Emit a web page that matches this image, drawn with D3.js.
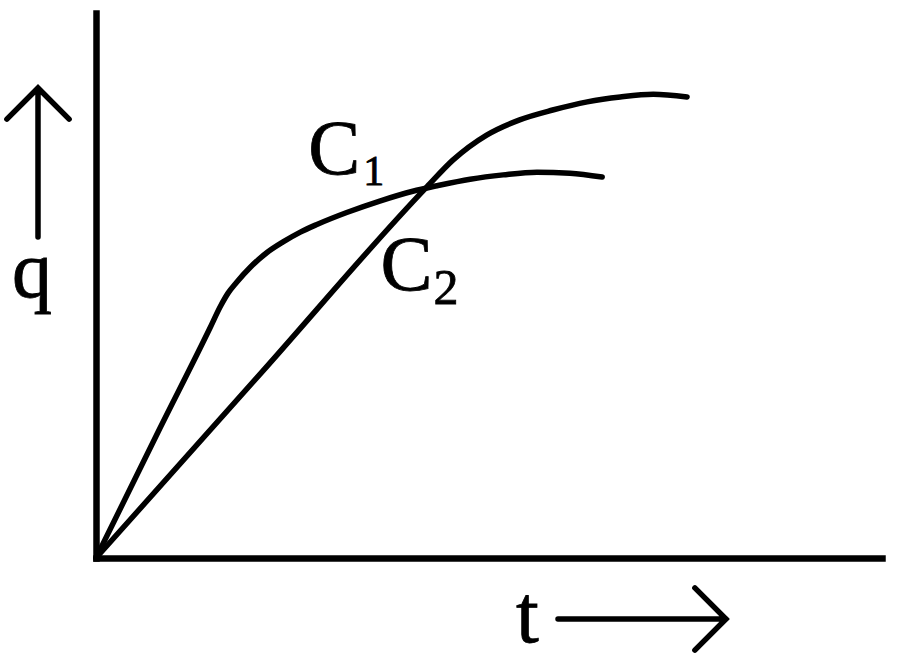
<!DOCTYPE html>
<html>
<head>
<meta charset="utf-8">
<script src="https://cdn.jsdelivr.net/npm/d3@7"></script>
<style>
  body { margin: 0; background: #fff; }
  svg { display: block; }
</style>
</head>
<body>
<svg id="chart" width="900" height="663"></svg>
<script>
// time (arbitrary units) and charge q for the two capacitors
var c1_t = [0, 0.81, 1.45, 1.58, 1.68, 1.79, 1.96, 2.18, 2.38, 2.60, 2.81, 3.19, 3.61, 4.03, 4.34, 4.76, 5.18, 5.61, 6.03, 6.44];
var c1_q = [0, 2.37, 4.22, 4.61, 4.86, 5.06, 5.33, 5.61, 5.80, 5.98, 6.12, 6.34, 6.55, 6.73, 6.83, 6.95, 7.03, 7.08, 7.06, 6.99];

var c2_t = [0, 2.11, 4.21, 4.54, 4.97, 5.39, 5.81, 6.25, 6.67, 7.09, 7.52];
var c2_q = [0, 3.41, 6.81, 7.30, 7.76, 8.04, 8.22, 8.37, 8.46, 8.51, 8.46];

// curve labels: name, subscript, anchor (data units)
var label_names = ["C", "C"];
var label_subs = ["1", "2"];
var label_t = [2.70, 3.62];
var label_q = [7.05, 4.91];

var FONT = "'Liberation Serif', 'Times New Roman', Tinos, Times, serif";

var svg = d3.select("#chart");

// scales - origin sits at (96, 558)
var x = d3.scaleLinear().domain([0, 10]).range([96, 882]);
var y = d3.scaleLinear().domain([0, 10]).range([558, 13]);

// axes with no ticks, just the bare lines
svg.append("g")
  .attr("transform", "translate(0," + y(0) + ")")
  .call(d3.axisBottom(x).tickValues([]).tickSizeOuter(0));
svg.append("g")
  .attr("transform", "translate(" + x(0) + ",0)")
  .call(d3.axisLeft(y).tickValues([]).tickSizeOuter(0));

svg.selectAll(".domain")
  .attr("stroke", "#000")
  .attr("stroke-width", 6.5)
  .attr("stroke-linecap", "square");

// the two charging curves
var line = d3.line()
  .x(function(d) { return x(d[0]); })
  .y(function(d) { return y(d[1]); })
  .curve(d3.curveMonotoneX);

var c1 = c1_t.map(function(t, i) { return [t, c1_q[i]]; });
var c2 = c2_t.map(function(t, i) { return [t, c2_q[i]]; });

[c1, c2].forEach(function(pts) {
  svg.append("path")
    .datum(pts)
    .attr("d", line)
    .attr("fill", "none")
    .attr("stroke", "#000")
    .attr("stroke-width", 5.5)
    .attr("stroke-linecap", "round")
    .attr("stroke-linejoin", "round");
});

// C1 / C2 labels
label_names.forEach(function(name, i) {
  var txt = svg.append("text")
    .attr("font-family", FONT)
    .attr("stroke", "#000")
    .attr("stroke-width", 0.8)
    .attr("x", x(label_t[i]))
    .attr("y", y(label_q[i]));
  txt.append("tspan")
    .attr("font-size", 78)
    .text(name);
  txt.append("tspan")
    .attr("font-size", i == 0 ? 42 : 50)
    .attr("dx", i == 0 ? 3 : 1)
    .attr("dy", i == 0 ? 11 : 14)
    .text(label_subs[i]);
});

// axis names with their arrows
function arrow(x1, y1, x2, y2) {
  var ang = Math.atan2(y2 - y1, x2 - x1);
  var len = 44, spread = Math.PI / 4;
  var p = d3.path();
  p.moveTo(x1, y1);
  p.lineTo(x2, y2);
  p.moveTo(x2 - len * Math.cos(ang - spread), y2 - len * Math.sin(ang - spread));
  p.lineTo(x2, y2);
  p.lineTo(x2 - len * Math.cos(ang + spread), y2 - len * Math.sin(ang + spread));
  svg.append("path")
    .attr("d", p.toString())
    .attr("fill", "none")
    .attr("stroke", "#000")
    .attr("stroke-width", 5.5)
    .attr("stroke-linecap", "round")
    .attr("stroke-linejoin", "miter");
}

svg.append("text")
  .attr("font-family", FONT)
  .attr("stroke", "#000")
  .attr("stroke-width", 0.8)
  .attr("x", 12)
  .attr("y", 297)
  .attr("font-size", 80)
  .text("q");
arrow(38, 237, 38, 88);

svg.append("text")
  .attr("font-family", FONT)
  .attr("stroke", "#000")
  .attr("stroke-width", 0.8)
  .attr("x", 516)
  .attr("y", 642)
  .attr("font-size", 82)
  .text("t");
arrow(558, 619, 726, 619);
</script>
</body>
</html>
